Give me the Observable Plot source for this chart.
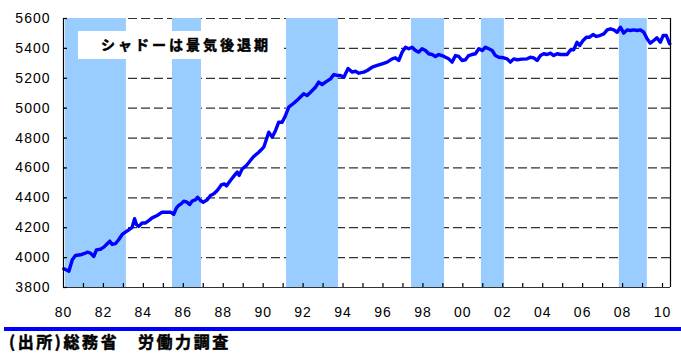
<!DOCTYPE html>
<html><head><meta charset="utf-8">
<script src="https://cdn.jsdelivr.net/npm/d3@7"></script>
<script src="https://cdn.jsdelivr.net/npm/@observablehq/plot@0.6"></script>
<style>
html,body{margin:0;padding:0;background:#fff;}
#wrap{position:relative;width:681px;height:354px;overflow:hidden;background:#fff;}
#topline{position:absolute;left:3px;top:0;width:678px;height:2px;background:#0000FF;}
#chart{position:absolute;left:0;top:0;}
#chart svg text{letter-spacing:1px;}
#note{position:absolute;left:78px;top:31px;width:205px;height:28px;background:#fff;}
#notetext{position:absolute;left:101px;top:36px;font-family:"Noto Sans CJK JP",sans-serif;font-weight:bold;font-size:14px;line-height:17px;letter-spacing:3px;color:#000;white-space:nowrap;-webkit-text-stroke:0.5px #000;}
#bottomrule{position:absolute;left:4px;top:327px;width:677px;height:4px;background:#0000FF;}
#source{position:absolute;left:9px;top:333px;font-family:"Noto Sans CJK JP",sans-serif;font-weight:bold;font-size:16px;line-height:16px;letter-spacing:2.6px;color:#000;white-space:nowrap;-webkit-text-stroke:0.5px #000;}
</style></head>
<body><div id="wrap">
<div id="topline"></div>
<div id="chart"></div>
<div id="note"></div>
<div id="notetext"></div>
<div id="bottomrule"></div>
<div id="source"></div>
</div>
<script>
// 雇用者数（万人）— values
const years = [
1980.02,1980.27,1980.44,1980.60,1980.85,1981.02,1981.19,1981.35,1981.52,1981.65,1981.85,
1982.02,1982.19,1982.32,1982.44,1982.60,1982.77,1982.94,1983.10,1983.27,1983.44,1983.56,
1983.66,1983.77,1983.94,1984.11,1984.27,1984.44,1984.69,1984.94,1985.19,1985.36,1985.52,
1985.66,1985.77,1985.89,1986.02,1986.19,1986.32,1986.44,1986.61,1986.72,1986.86,1987.00,
1987.20,1987.36,1987.53,1987.70,1987.90,1988.06,1988.16,1988.36,1988.56,1988.70,1988.80,
1988.95,1989.16,1989.36,1989.53,1989.78,1990.03,1990.28,1990.45,1990.62,1990.78,1990.95,
1991.12,1991.28,1991.53,1991.78,1992.03,1992.20,1992.37,1992.62,1992.78,1992.95,1993.12,
1993.37,1993.54,1993.71,1993.87,1994.04,1994.25,1994.46,1994.62,1994.79,1995.04,1995.21,
1995.46,1995.71,1995.96,1996.21,1996.46,1996.62,1996.79,1996.96,1997.13,1997.29,1997.46,
1997.63,1997.79,1997.96,1998.13,1998.29,1998.46,1998.63,1998.79,1998.96,1999.13,1999.29,
1999.46,1999.63,1999.79,1999.96,2000.13,2000.29,2000.46,2000.63,2000.80,2000.97,2001.13,
2001.30,2001.47,2001.63,2001.80,2002.05,2002.22,2002.38,2002.55,2002.72,2002.97,2003.22,
2003.38,2003.55,2003.72,2003.89,2004.05,2004.22,2004.39,2004.55,2004.72,2004.89,2005.05,
2005.22,2005.39,2005.55,2005.72,2005.85,2006.02,2006.19,2006.35,2006.52,2006.69,2006.86,
2007.06,2007.23,2007.39,2007.56,2007.73,2007.89,2008.06,2008.23,2008.39,2008.56,2008.73,
2008.89,2009.06,2009.23,2009.39,2009.56,2009.72,2009.89,2010.03,2010.19,2010.36
];
const employees = [
3925,3909,3985,4014,4019,4026,4036,4030,4008,4052,4056,
4070,4093,4110,4088,4093,4121,4155,4170,4186,4203,4260,
4220,4209,4232,4232,4248,4266,4282,4304,4304,4304,4290,
4333,4349,4360,4378,4371,4355,4378,4387,4404,4382,4371,
4387,4416,4427,4449,4486,4493,4480,4516,4550,4572,4550,
4594,4616,4650,4677,4705,4739,4839,4806,4851,4906,4906,
4951,5007,5033,5063,5096,5085,5107,5140,5174,5158,5174,
5196,5225,5219,5219,5207,5265,5241,5247,5234,5241,5252,
5274,5286,5297,5308,5330,5337,5319,5375,5408,5397,5408,
5386,5375,5397,5386,5364,5359,5346,5359,5352,5341,5330,
5308,5352,5346,5319,5324,5352,5359,5364,5397,5386,5408,
5397,5386,5352,5341,5337,5330,5308,5330,5324,5328,5330,
5341,5337,5319,5352,5364,5359,5368,5352,5364,5359,5359,
5359,5390,5390,5441,5419,5453,5475,5475,5493,5480,5486,
5497,5524,5531,5524,5508,5542,5502,5524,5520,5524,5520,
5524,5508,5464,5435,5453,5471,5441,5486,5486,5431
];
const recessionStart = [1980.10, 1985.46, 1991.17, 1997.43, 2000.93, 2007.84];
const recessionEnd   = [1983.15, 1986.91, 1993.77, 1999.08, 2002.08, 2009.24];
const yTicks = [3800, 4000, 4200, 4400, 4600, 4800, 5000, 5200, 5400, 5600];
const gridValues = [4000, 4200, 4400, 4600, 4800, 5000, 5200, 5400, 5600];
const xLabelYears = [1980,1982,1984,1986,1988,1990,1992,1994,1996,1998,2000,2002,2004,2006,2008,2010];
const xTickYears = [1981,1982,1983,1984,1985,1986,1987,1988,1989,1990,1991,1992,1993,1994,1995,1996,1997,1998,1999,2000,2001,2002,2003,2004,2005,2006,2007,2008,2009,2010];
const noteText = "シャドーは景気後退期";
const sourceText = "(出所)総務省　労働力調査";

const W = 681, H = 324, mL = 63, mR = 11, mT = 18, mB = 37;
const xDomain = [1980, 2010.4], yDomain = [3800, 5600];
const series = years.map((t, i) => ({t, v: employees[i]}));
const recessions = recessionStart.map((s, i) => ({s, e: recessionEnd[i]}));
const unitX = (xDomain[1] - xDomain[0]) / (W - mL - mR);
const unitY = (yDomain[1] - yDomain[0]) / (H - mT - mB);
const tickLen = 4;

const chart = Plot.plot({
  width: W, height: H,
  marginLeft: mL, marginRight: mR, marginTop: mT, marginBottom: mB,
  style: {fontFamily: "'Liberation Sans', Arial, sans-serif", fontSize: "14px", color: "#000", background: "#fff"},
  x: {domain: xDomain},
  y: {domain: yDomain},
  marks: [
    Plot.ruleY(gridValues, {y: d => d, stroke: "#333", strokeWidth: 1.2, strokeDasharray: "9,4"}),
    Plot.rect(recessions, {x1: "s", x2: "e", fill: "#99CCFF"}),
    Plot.line(series, {x: "t", y: "v", stroke: "#0000FF", strokeWidth: 3.4, strokeLinejoin: "round", strokeLinecap: "round"}),
    Plot.ruleY([yDomain[0]], {stroke: "#333", strokeWidth: 1.2}),
    Plot.ruleX([xDomain[0]], {stroke: "#000", strokeWidth: 1.2}),
    Plot.ruleX([xDomain[1]], {stroke: "#000", strokeWidth: 1.2}),
    Plot.ruleX(xTickYears, {x: d => d, y1: yDomain[0], y2: yDomain[0] + tickLen * unitY, stroke: "#000", strokeWidth: 1.2}),
    Plot.ruleY(yTicks, {y: d => d, x1: xDomain[0], x2: xDomain[0] + tickLen * unitX, stroke: "#000", strokeWidth: 1.2}),
    Plot.axisY({ticks: yTicks, tickSize: 0, tickPadding: 13, tickFormat: d => String(d), label: null}),
    Plot.axisX({ticks: xLabelYears, tickSize: 0, tickPadding: 20, tickFormat: d => String(d % 100).padStart(2, "0"), label: null})
  ]
});
document.getElementById("chart").appendChild(chart);
document.getElementById("notetext").textContent = noteText;
document.getElementById("source").textContent = sourceText;
</script>
</body></html>
